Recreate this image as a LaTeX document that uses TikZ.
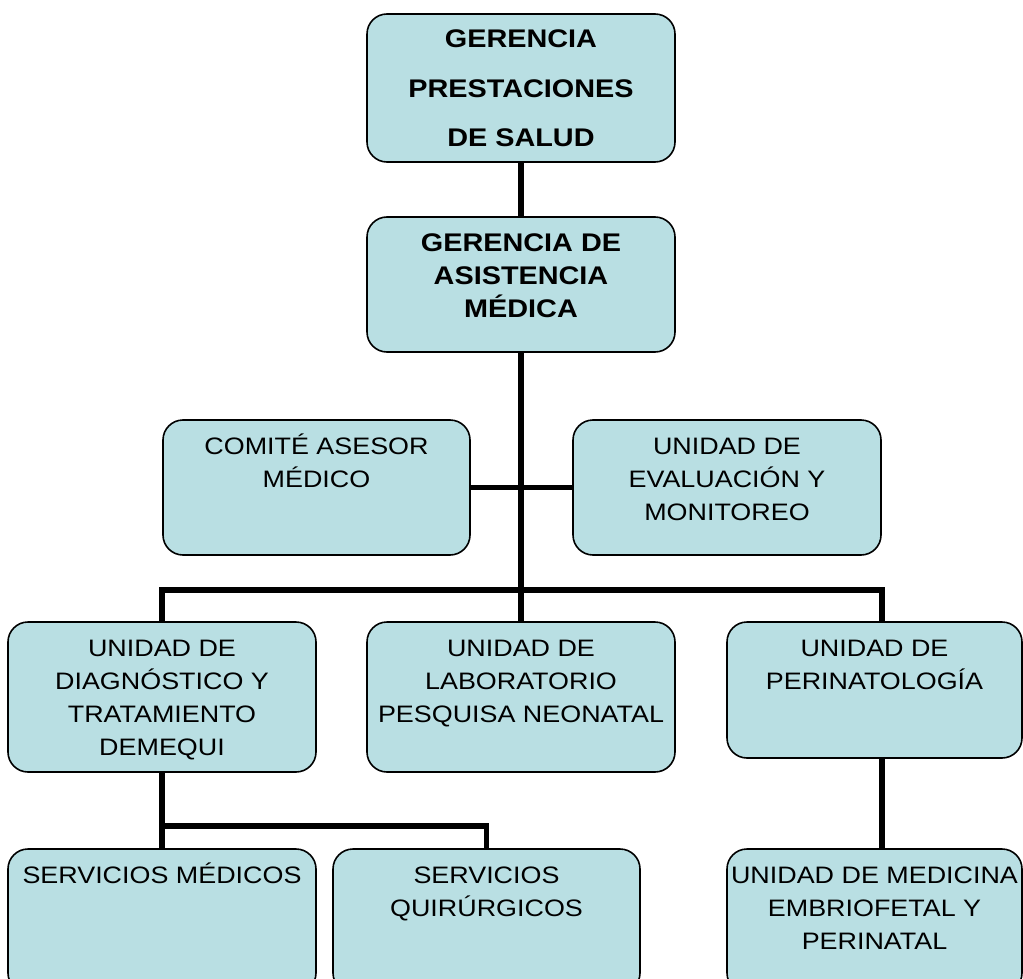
\documentclass[tikz,border=0pt]{standalone}
\usepackage{fontspec}
\setmainfont{Liberation Sans}[FakeStretch=1.13]
\usetikzlibrary{calc}
\definecolor{celeste}{RGB}{185,223,227}
\newcommand{\caja}[3]{\parbox[c][#2][t]{#1}{\centering\rule{0pt}{34pt}#3}}

\begin{document}
\begin{tikzpicture}[x=1pt, y=-1pt,
    unidad/.style={rectangle, draw=black, line width=1.6pt, fill=celeste,
        rounded corners=20pt, inner sep=0pt, font=\fontsize{23.8}{33}\selectfont},
    gerencia/.style={unidad, font=\fontsize{25.5}{33}\selectfont\bfseries},
    enlace/.style={line width=5.5pt, black}
]
    \useasboundingbox (0,0) rectangle (1023,979);
    \clip (0,0) rectangle (1023,979);
    % gerencias
    \node[gerencia, font=\fontsize{25.5}{49.5}\selectfont\bfseries] (gps) at (521,88)
        {\caja{308pt}{148pt}{GERENCIA\\PRESTACIONES\\DE SALUD}};
    \node[gerencia] (gam) at (521,284.5)
        {\caja{308pt}{135pt}{GERENCIA DE\\ASISTENCIA\\MÉDICA}};
    % staff
    \node[unidad] (comite) at (316.5,487.5)
        {\caja{307pt}{135pt}{COMITÉ ASESOR\\MÉDICO}};
    \node[unidad] (eval) at (727,487.5)
        {\caja{308pt}{135pt}{UNIDAD DE\\EVALUACIÓN Y\\MONITOREO}};
    % unidades
    \node[unidad] (diag) at (162,697)
        {\caja{308pt}{150pt}{UNIDAD DE\\DIAGNÓSTICO Y\\TRATAMIENTO\\DEMEQUI}};
    \node[unidad] (lab) at (521,697)
        {\caja{308pt}{150pt}{UNIDAD DE\\LABORATORIO\\PESQUISA NEONATAL}};
    \node[unidad] (perinat) at (874.5,690)
        {\caja{295pt}{136pt}{UNIDAD DE\\PERINATOLOGÍA}};
    % servicios
    \node[unidad] (smed) at (162,921)
        {\caja{308pt}{144pt}{SERVICIOS MÉDICOS}};
    \node[unidad] (squir) at (486.5,921)
        {\caja{307pt}{144pt}{SERVICIOS\\QUIRÚRGICOS}};
    \node[unidad] (umed) at (874.5,921)
        {\caja{295pt}{144pt}{UNIDAD DE MEDICINA\\EMBRIOFETAL Y\\PERINATAL}};

    \coordinate (barra) at (521,590);
    \coordinate (rama) at (0,826);

    \draw[enlace] (gps.south) -- (gam.north);
    \draw[enlace] (gam.south) -- (barra);
    \draw[enlace] (comite.east) -- (eval.west);
    \draw[enlace] (diag.north) |- (barra) -| (eval.east |- perinat.north);
    \draw[enlace] (barra) -- (lab.north);
    \draw[enlace] (diag.south) -- (smed.north);
    \draw[enlace] (smed.north |- rama) -| (squir.north);
    \draw[enlace] (eval.east |- perinat.south) -- (eval.east |- umed.north);
\end{tikzpicture}
\end{document}
